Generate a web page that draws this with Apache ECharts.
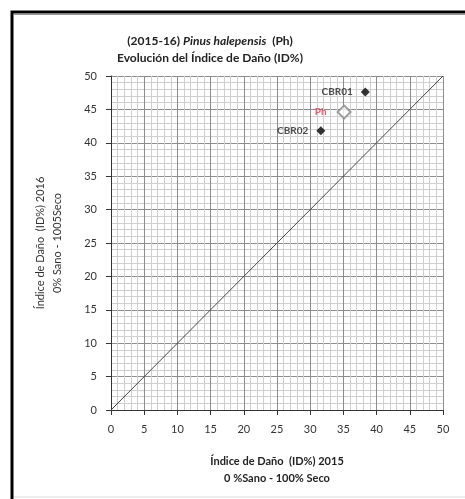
<!DOCTYPE html>
<html>
<head>
<meta charset="utf-8">
<script src="https://cdn.jsdelivr.net/npm/echarts@6/dist/echarts.min.js"></script>
<style>
    html, body { margin: 0; padding: 0; background: #fff; }
    #chartBox { width: 465px; height: 499px; }
</style>
</head>
<body>
<div id="chartBox"></div>
<script>
// datos
let names = ['CBR01', 'Ph', 'CBR02']
let id2015 = [38.3, 35.1, 31.6]
let id2016 = [47.6, 44.6, 41.8]
let diagonal = [[0, 0], [50, 50]]

let font = 'Lato'
let myChart = echarts.init(document.getElementById('chartBox'))

let points = []
for (let i = 0; i < names.length; i++) {
    let hueco = names[i] === 'Ph'
    points.push({
        name: names[i],
        value: [id2015[i], id2016[i]],
        symbolSize: hueco ? 13 : 9,
        itemStyle: hueco
            ? { color: '#fff', borderColor: '#8a8a8a', borderWidth: 2 }
            : { color: '#000' },
        label: {
            color: hueco ? '#e8344e' : '#222',
            distance: hueco ? 10 : 8
        }
    })
}

myChart.setOption({
    backgroundColor: '#fff',
    animation: false,
    title: [{
        text: '{a|(2015-16) }{b|Pinus halepensis}{a|  (Ph)}',
        left: 205,
        top: 30,
        textAlign: 'center',
        textStyle: {
            rich: {
                a: { fontFamily: font, fontSize: 12, fontWeight: 'bold', color: '#222' },
                b: { fontFamily: font, fontSize: 12, fontStyle: 'italic', color: '#222' }
            }
        }
    }, {
        text: 'Evolución del Índice de Daño (ID%)',
        left: 205,
        top: 47,
        textAlign: 'center',
        textStyle: { fontFamily: font, fontSize: 12, fontWeight: 'bold', color: '#222' }
    }],
    graphic: [{
        type: 'polyline',
        shape: { points: [[12, 499], [12, 12], [465, 12]] },
        style: { fill: 'none', stroke: '#000', lineWidth: 3 }
    }, {
        type: 'line',
        shape: { x1: 14, y1: 14.5, x2: 465, y2: 14.5 },
        style: { stroke: '#999', lineWidth: 1 }
    }, {
        type: 'line',
        shape: { x1: 14, y1: 497, x2: 465, y2: 497 },
        style: { stroke: '#ddd', lineWidth: 1 }
    }],
    grid: {
        left: 111,
        right: 22,
        top: 76,
        bottom: 89,
        containLabel: false
    },
    xAxis: {
        type: 'value',
        min: 0,
        max: 50,
        interval: 5,
        name: 'Índice de Daño  (ID%) 2015\n0 %Sano - 100% Seco',
        nameLocation: 'middle',
        nameGap: 43,
        nameTextStyle: { fontFamily: font, fontSize: 11, fontWeight: 'bold', color: '#222', lineHeight: 17 },
        axisLine: { show: true, lineStyle: { color: '#333', width: 1 } },
        axisTick: { show: true, length: 5, lineStyle: { color: '#333' } },
        axisLabel: { fontFamily: font, fontSize: 11, color: '#333', margin: 14 },
        minorTick: { show: false, splitNumber: 5 },
        splitLine: { show: true, lineStyle: { color: '#8c8c8c', width: 1 } },
        minorSplitLine: { show: true, lineStyle: { color: '#cfcfcf', width: 1 } }
    },
    yAxis: {
        type: 'value',
        min: 0,
        max: 50,
        interval: 5,
        name: 'Índice de Daño  (ID%) 2016\n0% Sano - 1005Seco',
        nameLocation: 'middle',
        nameGap: 45,
        nameRotate: 90,
        nameTextStyle: { fontFamily: font, fontSize: 11, color: '#333', lineHeight: 17 },
        axisLine: { show: true, lineStyle: { color: '#333', width: 1 } },
        axisTick: { show: true, length: 5, lineStyle: { color: '#333' } },
        axisLabel: { fontFamily: font, fontSize: 11, color: '#333', margin: 14 },
        minorTick: { show: false, splitNumber: 5 },
        splitLine: { show: true, lineStyle: { color: '#8c8c8c', width: 1 } },
        minorSplitLine: { show: true, lineStyle: { color: '#cfcfcf', width: 1 } }
    },
    series: [{
        type: 'line',
        data: diagonal,
        symbol: 'none',
        lineStyle: { color: '#444', width: 1 },
        z: 3
    }, {
        type: 'scatter',
        data: points,
        symbol: 'diamond',
        label: {
            show: true,
            position: 'left',
            formatter: '{b}',
            fontFamily: font,
            fontSize: 10,
            fontWeight: 'bold'
        },
        z: 4
    }]
})
</script>
</body>
</html>
